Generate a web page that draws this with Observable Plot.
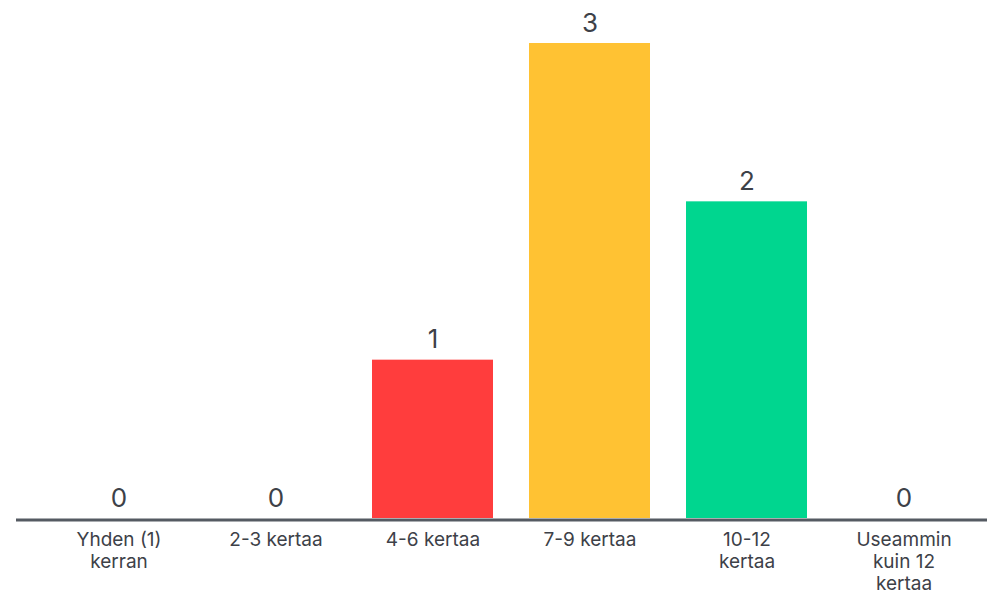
<!DOCTYPE html>
<html>
<head>
<meta charset="utf-8">
<script src="https://cdn.jsdelivr.net/npm/d3@7"></script>
<script src="https://cdn.jsdelivr.net/npm/@observablehq/plot@0.6"></script>
<style>
  html, body { margin: 0; padding: 0; background: #fff; }
  #chart svg { display: block; }
</style>
</head>
<body>
<div id="chart"></div>
<script>
const categories = ["Yhden (1)\nkerran", "2-3 kertaa", "4-6 kertaa", "7-9 kertaa", "10-12\nkertaa", "Useammin\nkuin 12\nkertaa"];
const values = [0, 0, 1, 3, 2, 0];
const colors = ["#4f8ef7", "#9b6cf0", "#ff3d3d", "#ffc233", "#00d68f", "#5aa0ff"];

const data = categories.map((c, i) => ({category: c, value: values[i], color: colors[i]}));

const chart = Plot.plot({
  width: 987,
  height: 601,
  marginTop: 43,
  marginBottom: 83,
  marginLeft: 16,
  marginRight: 0,
  style: {fontFamily: "Inter, 'Noto Sans', sans-serif", color: "#3d4148", background: "#fff"},
  x: {domain: categories, range: [38, 985], paddingInner: 0.227, paddingOuter: 0.1135, axis: null},
  y: {domain: [0, 3], axis: null},
  marks: [
    Plot.barY(data, {x: "category", y: "value", fill: "color"}),
    Plot.ruleY([0], {stroke: "#555a62", strokeWidth: 3, dy: 1.5}),
    Plot.text(data, {x: "category", y: "value", text: d => String(d.value), lineAnchor: "bottom", dy: -12, fontSize: 26, fill: "#3d4148"}),
    Plot.text(data, {x: "category", y: 0, text: "category", lineAnchor: "top", dy: 12, fontSize: 19, lineHeight: 1.16, letterSpacing: "-0.4px", fill: "#3d4148"})
  ]
});
document.getElementById("chart").appendChild(chart);
</script>
</body>
</html>
